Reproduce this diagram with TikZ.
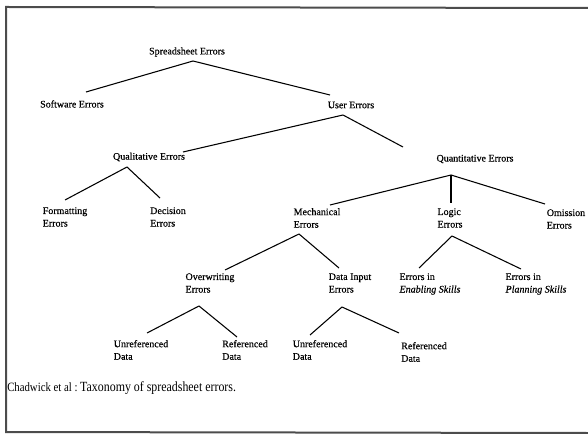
\documentclass[tikz,border=0pt]{standalone}
\usepackage{fontspec}
\setmainfont{Liberation Serif}
\newfontfamily\lblfont{Liberation Serif}[FakeBold=0.4]
\newfontfamily\capfont{Liberation Serif}[FakeStretch=0.85]
\usetikzlibrary{calc}

\begin{document}
\begin{tikzpicture}[x=0.75pt,y=-0.75pt,
  lbl/.style={font=\lblfont\fontsize{7.5}{9.4}\selectfont, align=left, inner sep=0pt},
  edge/.style={black, line width=0.8pt},
  frame/.style={gray!60!black, line width=1.5pt}]
\useasboundingbox (0,0) rectangle (588,434);
\draw [frame] (588,8) -- (6,7) -- (6,432) -- (588,433);
% tree labels
\node [lbl] (ss) at (187,52) {Spreadsheet Errors};
\node [lbl] (sw) at (72,104) {Software Errors};
\node [lbl] (ue) at (351,105) {User Errors};
\node [lbl] (ql) at (149,157) {Qualitative Errors};
\node [lbl] (qn) at (475,159) {Quantitative Errors};
\node [lbl] (fm) at (65,217) {Formatting\\Errors};
\node [lbl] (dc) at (168,217) {Decision\\Errors};
\node [lbl] (mc) at (317,218) {Mechanical\\Errors};
\node [lbl] (lg) at (450,218) {Logic\\Errors};
\node [lbl] (om) at (566,219) {Omission\\Errors};
\node [lbl] (ow) at (210,283) {Overwriting\\Errors};
\node [lbl] (di) at (350,283) {Data Input\\Errors};
\node [lbl] (en) at (430,284) {Errors in\\\textit{Enabling Skills}};
\node [lbl] (pl) at (536,284) {Errors in\\\textit{Planning Skills}};
\node [lbl] (ua) at (141,350) {Unreferenced\\Data};
\node [lbl] (ra) at (245,350) {Referenced\\Data};
\node [lbl] (ub) at (320,350) {Unreferenced\\Data};
\node [lbl] (rb) at (424,352) {Referenced\\Data};
% branches
\draw [edge] ($(ss.center)+(6,9)$) -- ($(sw.center)+(14,-12)$);
\draw [edge] ($(ss.center)+(6,9)$) -- ($(ue.center)+(-21,-10)$);
\draw [edge] ($(ue.center)+(-8,10)$) -- ($(ql.center)+(34,-5)$);
\draw [edge] ($(ue.center)+(-8,10)$) -- ($(qn.center)+(-72,-12)$);
\draw [edge] ($(ql.center)+(-22,10)$) -- ($(fm.center)+(0,-17)$);
\draw [edge] ($(ql.center)+(-22,10)$) -- ($(dc.center)+(-8,-19)$);
\draw [edge] ($(qn.center)+(-24,16)$) -- ($(mc.center)+(13,-13)$);
\draw [edge] ($(qn.center)+(-24,16)$) -- ($(lg.center)+(1,-15)$);
\draw [edge] ($(qn.center)+(-24,16)$) -- ($(om.center)+(-21,-15)$);
\draw [edge] ($(mc.center)+(-18,16)$) -- ($(ow.center)+(15,-13)$);
\draw [edge] ($(mc.center)+(-18,16)$) -- ($(di.center)+(-11,-15)$);
\draw [edge] ($(lg.center)+(2,18)$) -- ($(en.center)+(-11,-16)$);
\draw [edge] ($(lg.center)+(2,18)$) -- ($(pl.center)+(-15,-15)$);
\draw [edge] ($(ow.center)+(-11,23)$) -- ($(ua.center)+(6,-17)$);
\draw [edge] ($(ow.center)+(-11,23)$) -- ($(ra.center)+(-8,-13)$);
\draw [edge] ($(di.center)+(-8,24)$) -- ($(ub.center)+(-10,-15)$);
\draw [edge] ($(di.center)+(-8,24)$) -- ($(rb.center)+(-25,-19)$);
% caption
\node [inner sep=0pt, anchor=west] (cap) at (7,388)
  {\capfont\fontsize{9.5}{11}\selectfont Chadwick et al :\ \fontsize{10.5}{12}\selectfont Taxonomy of spreadsheet errors.};
\end{tikzpicture}
\end{document}
